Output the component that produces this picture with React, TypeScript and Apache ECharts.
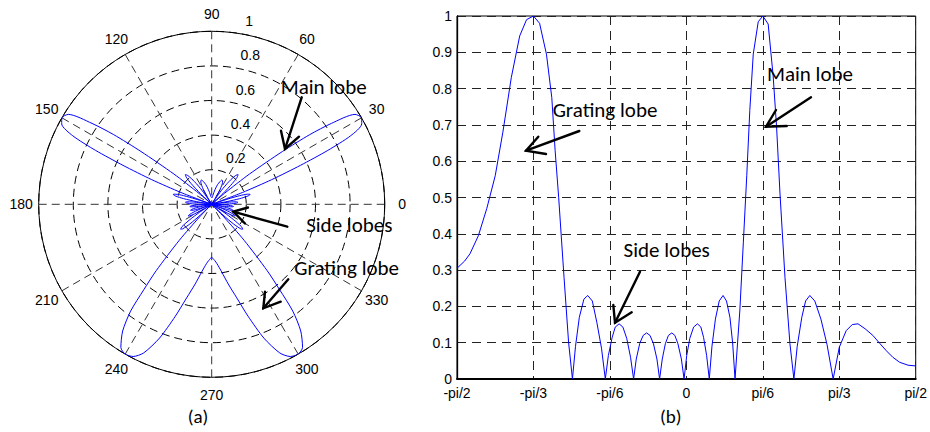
import React, { useEffect, useRef } from 'react';
import * as echarts from 'echarts';

// Steering angle in degrees (x axis of panel b, angle of panel a)
const ANGLE_DEG = [
  -90, -87, -84.9, -81.6, -78.3, -75, -72, -68.7, -65.4, -62.7, -60, -57.6, -54.9, -52.8, -51.5, -50.1, -48, -46.2, -44.7,
  -43.5, -42, -40.2, -38.7, -36.9, -35.1, -33.3, -31.8,
  -30.6, -29.1, -27.9, -26.4, -24.9, -23.4, -21.9, -20.7,
  -19.65, -18.3, -16.95, -15.6, -14.25, -12.9, -11.55, -10.5,
  -9.45, -8.25, -7.05, -5.7, -4.5, -3.3, -1.95, -0.9,
  0.15, 1.35, 2.85, 4.35, 5.7, 6.75, 7.95, 9,
  10.05, 11.4, 12.9, 14.4, 15.75, 17.1, 18.15, 19.1,
  21, 22.35, 23.7, 24.9, 26.25, 28.2, 30, 32.1, 34.05, 35.4, 36.75, 38.7, 40.65, 42.2,
  43.5, 45.3, 46.8, 48.45, 50.4, 52.8, 55.2, 57.6,
  60, 62.7, 65.1, 67.35, 70.2, 73.2, 75.9, 78.45, 81, 83.7, 87, 90,
];

// Normalised array factor magnitude
const GAIN = [
  0.305, 0.325, 0.345, 0.395, 0.47, 0.56, 0.68, 0.83, 0.945, 0.99, 1.0, 0.98, 0.895, 0.775, 0.63, 0.5, 0.28, 0.1, 0,
  0.09, 0.17, 0.22, 0.23, 0.215, 0.155, 0.085, 0,
  0.065, 0.115, 0.143, 0.152, 0.143, 0.112, 0.06, 0,
  0.055, 0.098, 0.12, 0.127, 0.12, 0.097, 0.055, 0,
  0.055, 0.097, 0.12, 0.127, 0.12, 0.097, 0.055, 0,
  0.065, 0.112, 0.143, 0.152, 0.143, 0.115, 0.065, 0,
  0.09, 0.165, 0.215, 0.23, 0.215, 0.17, 0.1, 0,
  0.19, 0.375, 0.56, 0.74, 0.895, 0.984, 1.0, 0.978, 0.835, 0.695, 0.51, 0.28, 0.097, 0,
  0.09, 0.17, 0.215, 0.23, 0.215, 0.165, 0.095, 0,
  0.087, 0.133, 0.15, 0.152, 0.138, 0.12, 0.098, 0.078, 0.06, 0.046, 0.038, 0.036,
];

const X_TICK_LABELS = ['-pi/2', '-pi/3', '-pi/6', '0', 'pi/6', 'pi/3', 'pi/2'];
const RADIUS_TICKS = [0.2, 0.4, 0.6, 0.8, 1];
const ANGLE_TICKS = [0, 30, 60, 90, 120, 150, 180, 210, 240, 270, 300, 330];
const RADIUS_LABEL_ANGLE = 82;
const ANGLE_LABEL_RADIUS = 1.101;

const AXIS_FONT = '"Liberation Sans", Arial, Helvetica, sans-serif';
const NOTE_FONT = 'Carlito, Lato, "Open Sans", sans-serif';

function arrow(tail: number[], tip: number[], l1: number[], l2: number[]) {
  const st = { stroke: '#000', lineWidth: 2.4, fill: 'none', lineCap: 'round', lineJoin: 'miter' };
  return [
    { type: 'line', z: 100, shape: { x1: tail[0], y1: tail[1], x2: tip[0], y2: tip[1] }, style: st },
    { type: 'polyline', z: 100, shape: { points: [l1, tip, l2] }, style: st },
  ];
}

function note(text: string, x: number, y: number, size: number) {
  return {
    type: 'text',
    z: 101,
    style: {
      text, x, y, fill: '#000', font: `${size}px ${NOTE_FONT}`,
      align: 'center', verticalAlign: 'middle', textAlign: 'center', textVerticalAlign: 'middle',
    },
  };
}

function axisText(text: string, x: number, y: number, align: string) {
  return {
    type: 'text',
    z: 50,
    style: {
      text, x, y, fill: '#000', font: `14px ${AXIS_FONT}`,
      align, verticalAlign: 'middle', textAlign: align, textVerticalAlign: 'middle',
    },
  };
}

export default function App() {
  const ref = useRef<HTMLDivElement>(null);
  useEffect(() => {
    const chart = echarts.init(ref.current!, null, { renderer: 'svg' });
    const cartData = ANGLE_DEG.map((a, i) => [a, GAIN[i]]);
    const rightHalf = ANGLE_DEG.map((a, i) => [GAIN[i], (a + 360) % 360]);
    const leftHalf = ANGLE_DEG.map((a, i) => [GAIN[i], 180 - a]).reverse();
    const polarData = rightHalf.concat(leftHalf);

    const option: any = {
      animation: false,
      polar: { center: [211.7, 204.3], radius: 173 },
      angleAxis: {
        type: 'value', min: 0, max: 360, interval: 30, startAngle: 0, clockwise: false,
        axisLine: { show: true, lineStyle: { color: '#000', width: 1 } },
        axisTick: { show: false },
        axisLabel: { show: false },
        splitLine: { show: true, lineStyle: { color: '#333', width: 1, type: [8, 5] } },
      },
      radiusAxis: {
        type: 'value', min: 0, max: 1, interval: 0.2,
        axisLine: { show: false }, axisTick: { show: false }, axisLabel: { show: false },
        splitLine: { show: true, lineStyle: { color: '#000', width: 1, type: [8, 5] } },
      },
      grid: {
        left: 457, right: 13, top: 16, bottom: 53,
        show: true, borderColor: '#000', borderWidth: 1,
      },
      xAxis: {
        type: 'value', min: -90, max: 90, interval: 30,
        axisLine: { show: true, onZero: false, lineStyle: { color: '#000', width: 2 } },
        axisTick: { show: false },
        axisLabel: {
          margin: 7, color: '#000', fontSize: 14, fontFamily: AXIS_FONT,
          formatter: (v: number) => X_TICK_LABELS[Math.round((v + 90) / 30)],
        },
        splitLine: { show: true, lineStyle: { color: '#222', width: 1, type: [9, 6] } },
      },
      yAxis: {
        type: 'value', min: 0, max: 1, interval: 0.1,
        axisLine: { show: true, onZero: false, lineStyle: { color: '#000', width: 1.3 } },
        axisTick: { show: false },
        axisLabel: { margin: 5, color: '#000', fontSize: 14, fontFamily: AXIS_FONT },
        splitLine: { show: true, lineStyle: { color: '#222', width: 1, type: [9, 6] } },
      },
      series: [
        {
          type: 'line', coordinateSystem: 'polar', data: polarData,
          showSymbol: false, symbol: 'none', smooth: 0.25,
          lineStyle: { color: '#0000ff', width: 1 }, z: 5,
        },
        {
          type: 'line', data: cartData, showSymbol: false, symbol: 'none', smooth: false,
          lineStyle: { color: '#0000ff', width: 1 }, z: 5,
        },
      ],
    };
    chart.setOption(option);

    // polar tick labels placed through the polar coordinate system
    const labels: any[] = [];
    RADIUS_TICKS.forEach((r) => {
      const p = chart.convertToPixel({ seriesIndex: 0 }, [r, RADIUS_LABEL_ANGLE]) as number[];
      if (p) labels.push(axisText(String(r), p[0] + 9.5, p[1] - 12, 'left'));
    });
    ANGLE_TICKS.forEach((a) => {
      const p = chart.convertToPixel({ seriesIndex: 0 }, [ANGLE_LABEL_RADIUS, a]) as number[];
      if (p) labels.push(axisText(String(a), p[0], p[1], 'center'));
    });

    chart.setOption({
      graphic: [
        ...labels,
        note('Main lobe', 323.7, 86.7, 21),
        ...arrow([301.7, 97.3], [285, 149], [281, 130.7], [299, 136.7]),
        note('Side lobes', 349.3, 225, 21),
        ...arrow([287.3, 226.7], [233.3, 211.7], [248, 207.5], [245, 223.5]),
        note('Grating lobe', 346.7, 268.3, 21),
        ...arrow([288.3, 279.3], [263.3, 308.3], [265, 291.7], [280.7, 301.7]),
        note('Grating lobe', 605, 110, 21),
        ...arrow([579.3, 131], [526, 150.7], [538.3, 136.7], [546, 154]),
        note('Main lobe', 810, 74, 21),
        ...arrow([811, 97.3], [766, 126.7], [776, 110], [786.7, 126]),
        note('Side lobes', 666.7, 250, 21),
        ...arrow([640, 271.7], [615, 322.7], [613.3, 305], [631.7, 312.3]),
        note('(a)', 198, 416.7, 19),
        note('(b)', 670.7, 416.7, 19),
      ],
    });
    return () => chart.dispose();
  }, []);
  return (
    <div
      ref={ref}
      style={{ position: 'fixed', left: 0, top: 0, width: 930, height: 432, background: '#fff' }}
    />
  );
}
